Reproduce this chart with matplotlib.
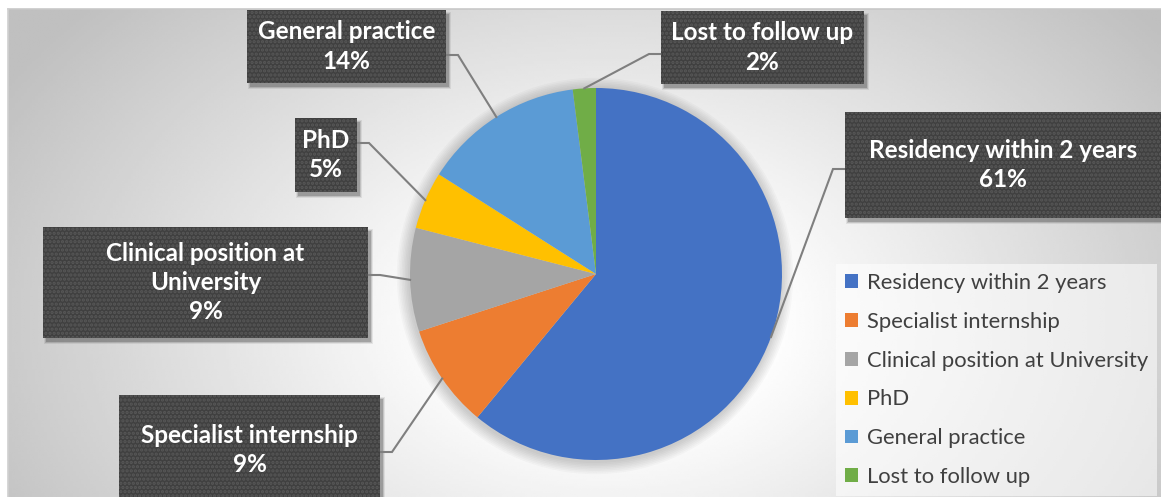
import numpy as np
import matplotlib
matplotlib.use("Agg")
import matplotlib.pyplot as plt
from matplotlib.patches import Rectangle, Circle

plt.rcParams['font.family'] = ['Lato', 'DejaVu Sans']
plt.rcParams['hatch.linewidth'] = 1.6

# data
categories = ['Residency within 2 years', 'Specialist internship',
              'Clinical position at University', 'PhD',
              'General practice', 'Lost to follow up']
shares = [61, 9, 9, 5, 14, 2]
label_names = ['Residency within 2 years', 'Specialist internship',
               'Clinical position at\nUniversity', 'PhD',
               'General practice', 'Lost to follow up']
colors = ['#4472C4', '#ED7D31', '#A5A5A5', '#FFC000', '#5B9BD5', '#70AD47']

W, H = 1161, 497

# label boxes in pixels from top-left: x0, y0, x1, y1, anchor y, side
boxes = [(845, 112, 1161, 218, 169, 'left'),
         (119, 395, 380, 505, 452, 'right'),
         (43, 227, 368, 338, 275, 'right'),
         (295, 118, 357, 192, 143, 'right'),
         (247, 10, 446, 83, 55, 'right'),
         (661, 11, 864, 84, 54, 'left')]


def fy(y):
    return H - y


fig = plt.figure(figsize=(W / 100, H / 100), dpi=100)
ax = fig.add_axes([0, 0, 1, 1])

# radial gradient background
gx, gy = np.meshgrid(np.linspace(8, W, 400), np.linspace(9, H, 200))
d = np.sqrt(((gx - 610) / 620) ** 2 + ((gy - 320) / 420) ** 2)
shade = 1.0 - 0.24 * np.clip(d - 0.25, 0, None) / 0.85
shade = np.clip(shade, 0.75, 1.0)
ax.imshow(shade, cmap='gray', vmin=0, vmax=1, extent=(8, W, fy(H), fy(9)),
          origin='upper', aspect='auto', zorder=0, interpolation='bilinear')
ax.plot([8, W], [fy(9), fy(9)], color='#c8c8c8', lw=1.2, zorder=1)
ax.plot([8, 8], [fy(9), 0], color='#d0d0d0', lw=1.2, zorder=1)

cx, cy, r = 596, fy(274), 186

# soft shadow round the pie
for k in range(8):
    ax.add_patch(Circle((cx - 1, cy - 2), r + 1 + k * 1.6, color='black',
                        alpha=0.025, lw=0, zorder=1))

wedges, _ = ax.pie(shares, colors=colors, startangle=90, counterclock=False,
                   center=(cx, cy), radius=r,
                   wedgeprops=dict(linewidth=0, zorder=2))
for w in wedges:
    w.set_zorder(2)

# label boxes with leader lines
for w, name, val, b in zip(wedges, label_names, shares, boxes):
    x0, y0, x1, y1, ya, side = b
    # shadow
    for k, a in enumerate([0.18, 0.12, 0.07]):
        ax.add_patch(Rectangle((x0 + 3 - k, fy(y1) - 4 - k), x1 - x0 + 2 * k,
                               y1 - y0 + 2 * k, color='black', alpha=a,
                               lw=0, zorder=3))
    ax.add_patch(Rectangle((x0, fy(y1)), x1 - x0, y1 - y0,
                           facecolor='#404040', edgecolor='#585858',
                           hatch='....', lw=0, zorder=4))
    ty = (y0 + y1) / 2 if y1 <= H else (y0 + H) / 2 + 4
    ax.text((x0 + x1) / 2, fy(ty), f'{name}\n{val}%', color='white',
            fontsize=17.5, fontweight='bold', ha='center', va='center',
            linespacing=1.33, zorder=5)
    mid = np.deg2rad((w.theta1 + w.theta2) / 2)
    px, py = cx + r * np.cos(mid), cy + r * np.sin(mid)
    sx = x0 if side == 'left' else x1
    ex = sx - 12 if side == 'left' else sx + 12
    ax.plot([sx, ex, px], [fy(ya), fy(ya), py], color='#7f7f7f', lw=1.5,
            zorder=3, solid_joinstyle='miter')

leg = ax.legend(wedges, categories, loc='upper left',
                bbox_to_anchor=(836 / W, 1 - 264 / H),
                bbox_transform=fig.transFigure, borderaxespad=0,
                frameon=True, fancybox=False, fontsize=15.8,
                handlelength=0.6, handleheight=0.6, handletextpad=0.4,
                labelspacing=0.86, borderpad=0.4, labelcolor='#404040')
leg.get_frame().set_facecolor('white')
leg.get_frame().set_alpha(0.55)
leg.get_frame().set_linewidth(0)

ax.set_xlim(0, W)
ax.set_ylim(0, H)
ax.set_aspect('auto')
ax.axis('off')

fig.savefig('out.png', dpi=100, facecolor='white')
